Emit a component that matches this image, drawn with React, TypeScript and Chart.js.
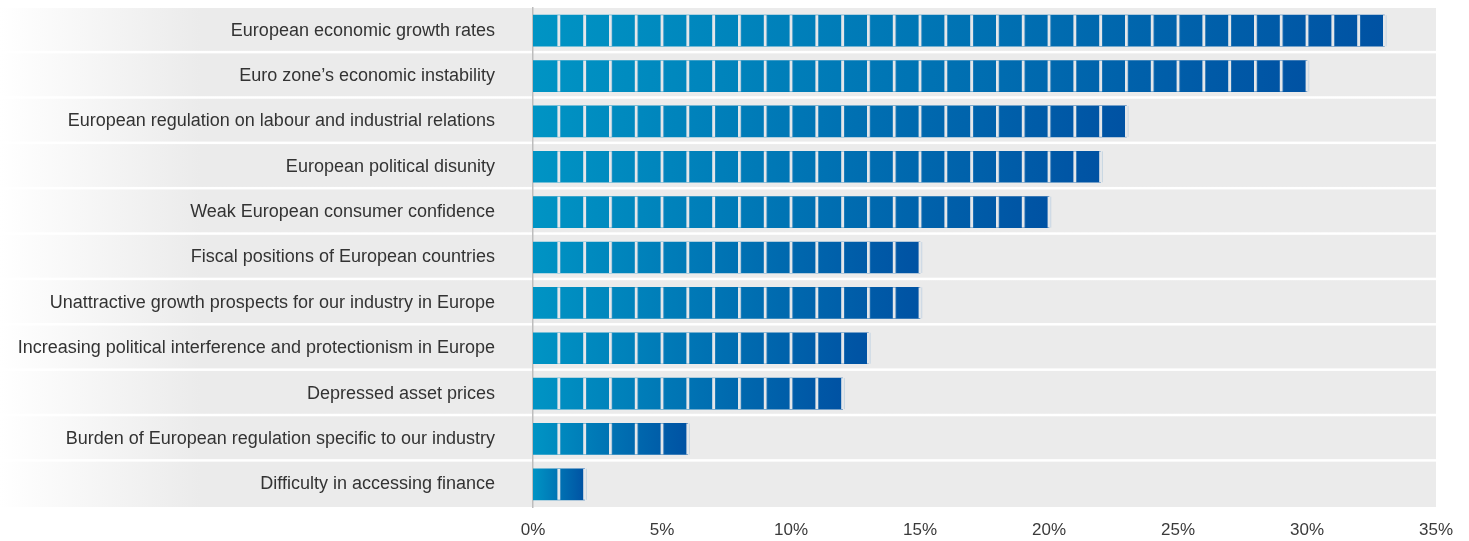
import React, { useEffect, useRef } from "react";
import { Chart, registerables } from "chart.js";

Chart.register(...registerables);

const categories: string[] = [
  "European economic growth rates",
  "Euro zone’s economic instability",
  "European regulation on labour and industrial relations",
  "European political disunity",
  "Weak European consumer confidence",
  "Fiscal positions of European countries",
  "Unattractive growth prospects for our industry in Europe",
  "Increasing political interference and protectionism in Europe",
  "Depressed asset prices",
  "Burden of European regulation specific to our industry",
  "Difficulty in accessing finance",
];

const values: number[] = [33, 30, 23, 22, 20, 15, 15, 13, 12, 6, 2];

const xMin = 0;
const xMax = 35;
const xStep = 5;

const FONT = "'Liberation Sans', Arial, Helvetica, sans-serif";

const bandPlugin = {
  id: "bands",
  beforeDraw(chart: any) {
    const { ctx, chartArea } = chart;
    const n = categories.length;
    const s = (chartArea.bottom - chartArea.top) / n;
    const gap = 2.5;
    const grad = ctx.createLinearGradient(0, 0, 200, 0);
    grad.addColorStop(0, "#ffffff");
    grad.addColorStop(1, "#ebebeb");
    ctx.save();
    for (let i = 0; i < n; i++) {
      const top = chartArea.top + i * s;
      const h = i === n - 1 ? s : s - gap;
      ctx.fillStyle = grad;
      ctx.fillRect(0, top, chartArea.right, h);
    }
    ctx.restore();
  },
};

const segmentPlugin = {
  id: "segments",
  afterDatasetsDraw(chart: any) {
    const { ctx, scales } = chart;
    const x = scales.x;
    const meta = chart.getDatasetMeta(0);
    ctx.save();
    meta.data.forEach((bar: any, i: number) => {
      const v = values[i];
      const h = bar.height;
      const top = bar.y - h / 2;
      for (let k = 1; k <= v; k++) {
        const px = x.getPixelForValue(k);
        ctx.fillStyle = "#e4e7ea";
        ctx.fillRect(px - 1.4, top, 2.8, h);
        ctx.fillStyle = "rgba(120,170,210,0.35)";
        ctx.fillRect(px + 1.4, top, 0.8, h);
      }
    });
    ctx.restore();
  },
};

export default function App() {
  const ref = useRef<HTMLCanvasElement | null>(null);

  useEffect(() => {
    if (!ref.current) return;
    const chart = new Chart(ref.current, {
      type: "bar",
      data: {
        labels: categories,
        datasets: [
          {
            data: values,
            barThickness: 31,
            borderWidth: 0,
            backgroundColor: (c: any) => {
              const ch = c.chart;
              const xs = ch.scales && ch.scales.x;
              if (!ch.chartArea || !xs || c.raw === undefined) return "#0073b5";
              const x0 = xs.getPixelForValue(0);
              const x1 = xs.getPixelForValue(c.raw);
              if (!isFinite(x0) || !isFinite(x1) || x1 === x0) return "#0073b5";
              const g = ch.ctx.createLinearGradient(x0, 0, x1, 0);
              g.addColorStop(0, "#0094c4");
              g.addColorStop(1, "#0052a3");
              return g;
            },
          },
        ],
      },
      options: {
        indexAxis: "y",
        animation: false,
        responsive: true,
        maintainAspectRatio: false,
        layout: { padding: { top: 8, right: 33, bottom: 0, left: 0 } },
        plugins: {
          legend: { display: false },
          tooltip: { enabled: false },
        },
        scales: {
          x: {
            min: xMin,
            max: xMax,
            grid: { display: false, drawTicks: false },
            border: { display: false },
            ticks: {
              stepSize: xStep,
              padding: 13,
              color: "#3a3a3a",
              font: { family: FONT, size: 17 },
              callback: (v: any) => v + "%",
            },
            afterFit: (s: any) => {
              s.height = 34;
            },
          },
          y: {
            grid: { display: false, drawTicks: false },
            border: { display: true, color: "#bdbdbd", width: 1.5 },
            ticks: {
              padding: 38,
              color: "#333333",
              font: { family: FONT, size: 18 },
            },
            afterFit: (s: any) => {
              s.width = 533;
              s.paddingTop = 0;
              s.paddingBottom = 0;
            },
          },
        },
      },
      plugins: [bandPlugin, segmentPlugin],
    } as any);
    return () => chart.destroy();
  }, []);

  return (
    <div style={{ position: "absolute", left: 0, top: 0, width: 1469, height: 541, background: "#fff" }}>
      <canvas ref={ref} />
    </div>
  );
}
